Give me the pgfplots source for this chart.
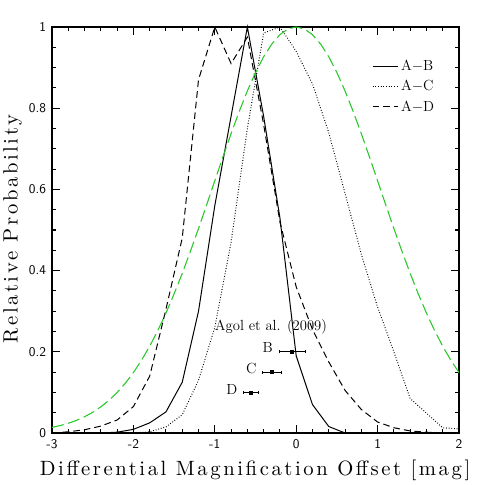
\documentclass[border=0pt]{standalone}
\usepackage{fontspec}
\usepackage{pgfplots}
\pgfplotsset{compat=1.18}
\definecolor{lgreen}{RGB}{40,200,40}
\newfontfamily\lblfont{lmroman10-regular.otf}[LetterSpace=12.5]

\begin{document}
\begin{tikzpicture}
\path[use as bounding box] (0,0) rectangle (363.75pt,363.75pt);
\begin{axis}[
at={(39pt,39pt)},anchor=south west,
scale only axis,width=305.25pt,height=304.5pt,
xmin=-3,xmax=2,ymin=0,ymax=1,
xtick={-3,-2,-1,0,1,2},ytick={0,0.2,0.4,0.6,0.8,1},
minor x tick num=4,minor y tick num=3,
tick pos=both,xticklabel pos=lower,yticklabel pos=left,
tick align=inside,
major tick length=6pt,minor tick length=3pt,
axis line style={line width=0.9pt},
every tick/.style={line width=0.8pt,black},
/pgf/number format/assume math mode=true,
tick label style={font=\fontsize{10}{12}\selectfont\sffamily},
xticklabel style={yshift=-1.5pt},
yticklabel style={xshift=-1pt},
xlabel={\lblfont\fontsize{15.5}{18}\selectfont Differential Magnification Offset [mag]},
ylabel={\lblfont\fontsize{15.5}{18}\selectfont Relative Probability},
xlabel style={at={(axis description cs:0.499,-0.093)},anchor=center},
ylabel style={at={(axis description cs:-0.097,0.502)},anchor=center},
legend style={draw=none,fill=none,at={(0.776,0.933)},anchor=north west,
  font=\fontsize{11}{13}\selectfont,row sep=2pt},
legend cell align=left,
legend image code/.code={\draw[#1] (0pt,0pt) -- (19pt,0pt);},
clip=false,
]
% A-B
\addplot[black,line width=0.75pt] coordinates {
(-3,0)(-2.8,0)(-2.6,0)(-2.4,0)(-2.2,0.002)(-2.0,0.009)(-1.8,0.025)(-1.6,0.052)
(-1.4,0.125)(-1.2,0.30)(-1.0,0.56)(-0.8,0.78)(-0.6,1.0)(-0.4,0.78)(-0.2,0.53)
(0,0.19)(0.2,0.07)(0.4,0.016)(0.6,0)(0.8,0)(1.0,0)(1.2,0)(1.4,0)(1.6,0)(1.8,0)(2.0,0)};
\addlegendentry{A$-$B}
% A-C
\addplot[black,line width=0.75pt,dash pattern=on 0.6pt off 1.4pt] coordinates {
(-3,0)(-2.8,0)(-2.6,0)(-2.4,0)(-2.2,0)(-2.0,0)(-1.8,0.003)(-1.6,0.015)
(-1.4,0.045)(-1.2,0.13)(-1.0,0.26)(-0.8,0.47)(-0.6,0.75)(-0.4,0.985)(-0.2,1.0)
(0,0.94)(0.2,0.86)(0.4,0.74)(0.6,0.59)(0.8,0.44)(1.0,0.31)(1.2,0.20)
(1.4,0.085)(1.6,0.049)(1.8,0.013)(2.0,0.01)};
\addlegendentry{A$-$C}
% A-D
\addplot[black,line width=0.75pt,dash pattern=on 5pt off 3pt] coordinates {
(-3,0)(-2.8,0.003)(-2.6,0.008)(-2.4,0.017)(-2.2,0.032)(-2.0,0.065)(-1.8,0.14)
(-1.6,0.305)(-1.4,0.48)(-1.2,0.87)(-1.0,1.0)(-0.8,0.91)(-0.6,0.975)(-0.4,0.76)
(-0.2,0.52)(0,0.36)(0.2,0.255)(0.4,0.175)(0.6,0.105)(0.8,0.058)(1.0,0.027)
(1.2,0.013)(1.4,0.005)(1.6,0.002)(1.8,0)(2.0,0)};
\addlegendentry{A$-$D}
% fit
\addplot[lgreen,line width=0.8pt,dash pattern=on 9pt off 3.5pt,forget plot] coordinates {
(-3.0,0.0138)(-2.9,0.0182)(-2.8,0.0239)(-2.7,0.0311)(-2.6,0.0400)(-2.5,0.0510)
(-2.4,0.0644)(-2.3,0.0805)(-2.2,0.0998)(-2.1,0.1225)(-2.0,0.1489)(-1.9,0.1792)
(-1.8,0.2138)(-1.7,0.2525)(-1.6,0.2955)(-1.5,0.3425)(-1.4,0.3932)(-1.3,0.4472)
(-1.2,0.5037)(-1.1,0.5620)(-1.0,0.6212)(-0.9,0.6800)(-0.8,0.7373)(-0.7,0.7919)
(-0.6,0.8425)(-0.5,0.8878)(-0.4,0.9266)(-0.3,0.9580)(-0.2,0.9811)(-0.1,0.9953)
(0,1.0)(0.1,0.9953)(0.2,0.9811)(0.3,0.9580)(0.4,0.9266)(0.5,0.8878)(0.6,0.8425)
(0.7,0.7919)(0.8,0.7373)(0.9,0.6800)(1.0,0.6212)(1.1,0.5620)(1.2,0.5037)
(1.3,0.4472)(1.4,0.3932)(1.5,0.3425)(1.6,0.2955)(1.7,0.2525)(1.8,0.2138)
(1.9,0.1792)(2.0,0.1489)};
% Agol et al. (2009)
\addplot[black,only marks,mark=square*,mark size=1.1pt,forget plot,
  error bars/.cd,x dir=both,x explicit,
  error bar style={line width=0.7pt}] coordinates {
(-0.05,0.20) +- (0.16,0)
(-0.30,0.15) +- (0.12,0)
(-0.555,0.10) +- (0.09,0)};
\node[font=\fontsize{11}{13}\selectfont] at (axis cs:-0.31,0.261) {Agol et al. (2009)};
\node[font=\fontsize{11}{13}\selectfont] at (axis cs:-0.35,0.21) {B};
\node[font=\fontsize{11}{13}\selectfont] at (axis cs:-0.55,0.158) {C};
\node[font=\fontsize{11}{13}\selectfont] at (axis cs:-0.79,0.108) {D};
\end{axis}
\end{tikzpicture}
\end{document}
